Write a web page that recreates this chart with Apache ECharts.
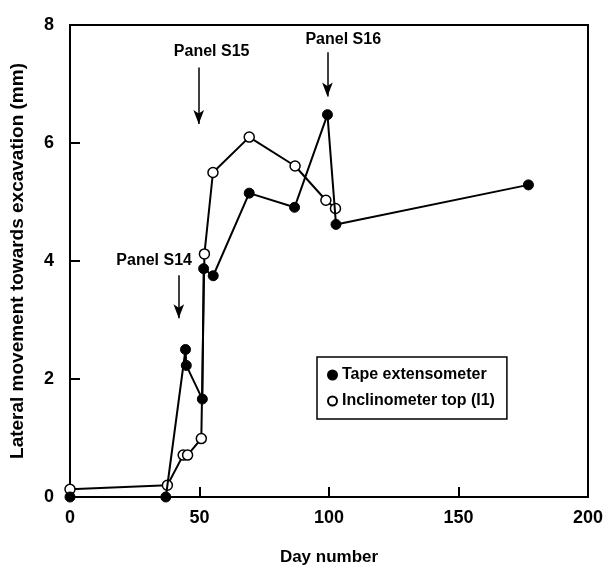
<!DOCTYPE html>
<html>
<head>
<meta charset="utf-8">
<script src="https://cdn.jsdelivr.net/npm/echarts@6/dist/echarts.min.js"></script>
<style>
html,body{margin:0;padding:0;background:#fff;}
#chart{width:607px;height:571px;}
</style>
</head>
<body>
<div id="chart"></div>
<script>
// Tape extensometer: [day, movement mm]
var tapeDays   = [0, 37, 44.6, 44.9, 51.1, 51.6, 55.3, 69.2, 86.7, 99.4, 102.7, 177];
var tapeValues = [0, 0, 2.5, 2.23, 1.66, 3.87, 3.75, 5.15, 4.91, 6.48, 4.62, 5.29];
// Inclinometer top (I1)
var incDays   = [0, 37.6, 43.7, 45.4, 50.7, 51.9, 55.2, 69.2, 86.9, 98.8, 102.5];
var incValues = [0.13, 0.2, 0.71, 0.71, 0.99, 4.12, 5.50, 6.10, 5.61, 5.03, 4.89];
// Panel annotations
var panelLabels = ['Panel S14', 'Panel S15', 'Panel S16'];
var panelTextX  = [32.5, 54.7, 105.5];
var panelTextY  = [4.0, 7.55, 7.75];
var arrowX      = [42.0, 49.7, 99.4];
var arrowStartY = [3.76, 7.28, 7.54];
var arrowEndY   = [3.03, 6.32, 6.79];
var xTicks = [0, 50, 100, 150, 200];
var yTicks = [0, 2, 4, 6, 8];

function zip(a, b) { return a.map(function (v, i) { return [v, b[i]]; }); }

var font = 'Liberation Sans';
var ink = '#000';
var chart = echarts.init(document.getElementById('chart'));
chart.setOption({
  animation: false,
  backgroundColor: '#fff',
  textStyle: { fontFamily: font, color: ink },
  grid: { left: 65, right: 19, top: 25, bottom: 70, show: true, borderColor: '#000', borderWidth: 2 },
  xAxis: {
    type: 'value', min: xTicks[0], max: xTicks[xTicks.length - 1], interval: 50,
    name: 'Day number', nameLocation: 'middle', nameGap: 52,
    nameTextStyle: { fontFamily: font, fontSize: 17, fontWeight: 'bold', color: ink },
    axisLine: { lineStyle: { color: '#000', width: 2 } },
    axisTick: { inside: true, length: 10, lineStyle: { color: '#000', width: 2 } },
    axisLabel: { fontFamily: font, fontSize: 18, fontWeight: 'bold', color: ink, margin: 12 },
    splitLine: { show: false }
  },
  yAxis: {
    type: 'value', min: yTicks[0], max: yTicks[yTicks.length - 1], interval: 2,
    name: 'Lateral movement towards excavation (mm)', nameLocation: 'middle', nameGap: 43,
    nameTextStyle: { fontFamily: font, fontSize: 19, fontWeight: 'bold', color: ink },
    axisLine: { lineStyle: { color: '#000', width: 2 } },
    axisTick: { inside: true, length: 10, lineStyle: { color: '#000', width: 2 } },
    axisLabel: { fontFamily: font, fontSize: 18, fontWeight: 'bold', color: ink, margin: 16 },
    splitLine: { show: false }
  },
  legend: {
    orient: 'vertical', left: 317, top: 357,
    padding: [10, 12, 10, 10], itemGap: 10,
    borderColor: '#000', borderWidth: 1.5,
    icon: 'circle', itemWidth: 9, itemHeight: 9,
    textStyle: { fontFamily: font, fontSize: 16, fontWeight: 'bold', color: ink },
    data: ['Tape extensometer', 'Inclinometer top (I1)']
  },
  series: [
    {
      name: 'Inclinometer top (I1)', type: 'line', data: zip(incDays, incValues),
      symbol: 'circle', symbolSize: 10,
      lineStyle: { color: '#000', width: 2 },
      itemStyle: { color: '#fff', borderColor: '#000', borderWidth: 1.5 },
      z: 3
    },
    {
      name: 'Tape extensometer', type: 'line', data: zip(tapeDays, tapeValues),
      symbol: 'circle', symbolSize: 10,
      lineStyle: { color: '#000', width: 2 },
      itemStyle: { color: '#000', borderColor: '#000', borderWidth: 1 },
      z: 4,
      markLine: {
        silent: true, symbol: ['none', 'arrow'], symbolSize: [8, 14],
        lineStyle: { color: '#000', width: 1.5, type: 'solid' },
        label: { show: false },
        data: arrowX.map(function (d, i) {
          return [{ coord: [d, arrowStartY[i]] }, { coord: [d, arrowEndY[i]] }];
        })
      }
    },
    {
      name: 'annotations', type: 'scatter', symbolSize: 1, silent: true,
      itemStyle: { opacity: 0 },
      data: panelTextX.map(function (d, i) { return { value: [d, panelTextY[i]], name: panelLabels[i] }; }),
      label: {
        show: true, position: 'inside', formatter: '{b}', opacity: 1,
        fontFamily: font, fontSize: 16, fontWeight: 'bold', color: ink
      }
    }
  ]
});
</script>
</body>
</html>
